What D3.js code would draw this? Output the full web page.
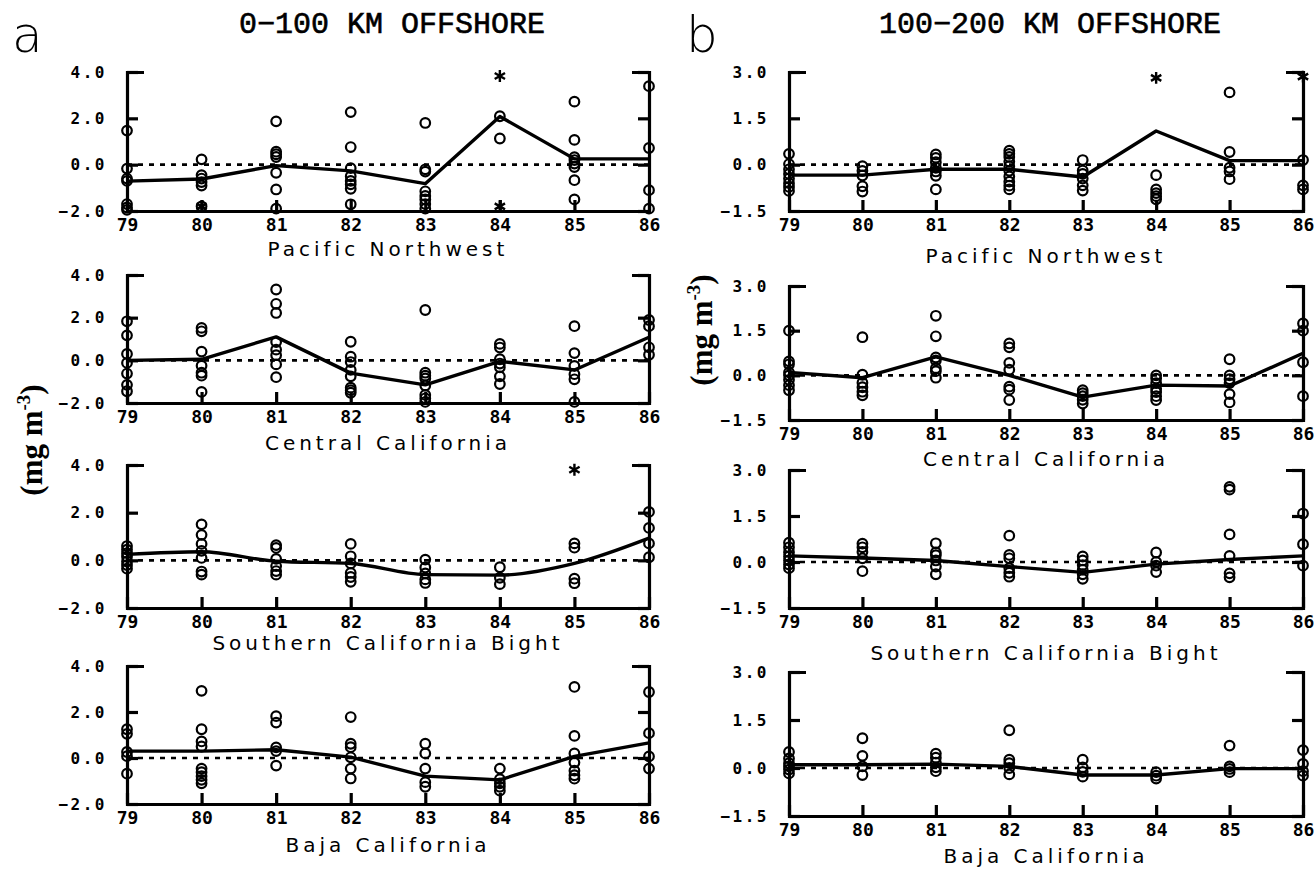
<!DOCTYPE html>
<meta charset="utf-8">
<script src="https://d3js.org/d3.v7.min.js"></script>
<style>
  body { margin: 0; background: #fff; }
  svg text { fill: #000; }
</style>
<div id="chart"></div>
<script>

// years on the x axis
var years = [79, 80, 81, 82, 83, 84, 85, 86];

// y tick labels
var nearTicks = [-2, 0, 2, 4];
var farTicks = [-1.5, 0, 1.5, 3];

// ---- 0-100 km offshore: station values per year, and the mean line ----
var nearPNW = [
  [1.47, -0.17, -0.6, -0.7, -1.7, -1.85, -1.95],
  [0.23, -0.45, -0.6, -0.75, -0.9, -1.8],
  [1.87, 0.56, 0.45, 0.33, -0.35, -1.07, -1.9],
  [2.27, 0.76, -0.15, -0.5, -0.7, -0.85, -1.04, -1.71],
  [1.8, -0.2, -0.3, -1.15, -1.35, -1.5, -1.7, -1.9],
  [2.09, 1.13],
  [2.72, 1.07, 0.32, 0.2, 0.05, -0.1, -0.67, -1.5],
  [3.39, 0.72, -1.1, -1.9]
];
var nearPNWMean = [-0.71, -0.62, -0.04, -0.27, -0.82, 2.08, 0.25, 0.25];
var nearPNWStars = [[84, 3.83], [84, -1.8], [80, -1.8]];

var nearCC = [
  [1.83, 1.17, 0.3, -0.12, -0.62, -1.15, -1.45],
  [1.52, 1.36, 0.41, -0.25, -0.58, -0.72, -1.48],
  [3.32, 2.65, 2.22, 0.86, 0.5, 0.24, -0.19, -0.79],
  [0.87, 0.17, -0.08, -0.45, -0.75, -1.28, -1.4, -1.52],
  [2.36, -0.58, -0.72, -0.85, -1.18, -1.62, -1.78, -1.95],
  [0.77, 0.6, 0.05, -0.15, -0.33, -0.75, -1.11],
  [1.6, 0.34, -0.26, -0.65, -0.89, -1.95],
  [1.89, 1.6, 0.61, 0.26]
];
var nearCCMean = [0.0, 0.05, 1.1, -0.6, -1.15, -0.05, -0.45, 1.08];
var nearCCStars = [];

var nearSCB = [
  [0.6, 0.45, 0.3, 0.15, -0.05, -0.2, -0.35],
  [1.51, 1.07, 0.69, 0.4, 0.1, -0.47, -0.6],
  [0.64, 0.52, 0.06, -0.24, -0.45, -0.6],
  [0.69, 0.17, -0.13, -0.53, -0.7, -0.9],
  [0.03, -0.3, -0.55, -0.8, -0.95],
  [-0.29, -0.73, -1.0],
  [0.71, 0.53, -0.77, -0.96],
  [2.03, 1.36, 0.71, 0.13]
];
var nearSCBMean = [0.25, 0.36, -0.04, -0.13, -0.6, -0.62, -0.13, 0.93];
var nearSCBStars = [[85, 3.8]];

var nearBaja = [
  [1.25, 1.05, 0.26, 0.08, -0.68],
  [2.92, 1.25, 0.72, 0.5, -0.46, -0.62, -0.79, -0.95, -1.1],
  [1.82, 1.54, 0.46, 0.3, -0.33],
  [1.78, 0.62, 0.47, 0.03, -0.46, -0.89],
  [0.62, 0.2, -0.46, -1.05, -1.25],
  [-0.46, -0.92, -1.1, -1.25, -1.42],
  [3.09, 0.96, 0.2, -0.2, -0.55, -0.75, -0.9],
  [2.87, 1.08, 0.07, -0.46]
];
var nearBajaMean = [0.3, 0.3, 0.36, 0.04, -0.79, -0.95, 0.07, 0.66];
var nearBajaStars = [];

// ---- 100-200 km offshore ----
var farPNW = [
  [0.35, 0.02, -0.15, -0.3, -0.45, -0.6, -0.72, -0.85],
  [-0.05, -0.2, -0.35, -0.7, -0.87],
  [0.33, 0.22, 0.08, -0.1, -0.22, -0.36, -0.8],
  [0.45, 0.35, 0.25, 0.1, -0.05, -0.2, -0.38, -0.55, -0.68, -0.8],
  [0.15, -0.19, -0.3, -0.45, -0.67, -0.84],
  [-0.34, -0.8, -0.92, -1.02, -1.12],
  [2.34, 0.41, -0.1, -0.22, -0.47],
  [0.15, -0.67, -0.8]
];
var farPNWMean = [-0.34, -0.34, -0.15, -0.15, -0.4, 1.09, 0.13, 0.13];
var farPNWStars = [[84, 2.81], [86, 2.85]];

var farCC = [
  [1.5, 0.47, 0.37, 0.1, 0.0, -0.15, -0.33, -0.5],
  [1.28, 0.02, -0.25, -0.4, -0.55, -0.67],
  [2.0, 1.31, 0.6, 0.5, 0.24, 0.14, -0.08],
  [1.07, 0.94, 0.42, 0.19, -0.38, -0.48, -0.83],
  [-0.5, -0.6, -0.7, -0.82, -0.95],
  [0.0, -0.11, -0.26, -0.45, -0.56, -0.7, -0.83],
  [0.54, 0.0, -0.13, -0.26, -0.63, -0.91],
  [1.74, 1.5, 0.44, -0.7]
];
var farCCMean = [0.1, -0.08, 0.62, 0.0, -0.73, -0.33, -0.36, 0.74];
var farCCStars = [];

var farSCB = [
  [0.63, 0.48, 0.32, 0.18, 0.05, -0.08, -0.2],
  [0.6, 0.48, 0.33, 0.12, -0.3],
  [0.61, 0.31, 0.22, 0.05, -0.15, -0.4],
  [0.86, 0.23, 0.12, -0.2, -0.35, -0.48],
  [0.18, 0.05, -0.1, -0.25, -0.4, -0.55],
  [0.31, 0.0, -0.12, -0.33],
  [2.45, 2.36, 0.9, 0.2, -0.37, -0.5],
  [1.58, 0.58, -0.12]
];
var farSCBMean = [0.2, 0.13, 0.05, -0.15, -0.34, -0.07, 0.08, 0.2];
var farSCBStars = [];

var farBaja = [
  [0.5, 0.3, 0.15, 0.05, -0.05, -0.17],
  [0.93, 0.38, 0.05, -0.22],
  [0.45, 0.32, 0.17, 0.02, -0.1],
  [1.18, 0.26, 0.15, 0.0, -0.2],
  [0.26, 0.02, -0.12, -0.27],
  [-0.13, -0.24, -0.33],
  [0.7, 0.05, -0.03, -0.13],
  [0.56, 0.13, -0.1, -0.24]
];
var farBajaMean = [0.1, 0.1, 0.12, 0.05, -0.22, -0.22, -0.02, -0.02];
var farBajaStars = [];

// ---------------------------------------------------------------
var W = 1315, H = 881;

var svg = d3.select("#chart")
  .append("svg")
    .attr("width", W)
    .attr("height", H);

// column layout
var cols = [
  {x0: 127, x1: 649, domain: [-2, 4], ticks: nearTicks},
  {x0: 789, x1: 1303, domain: [-1.5, 3], ticks: farTicks}
];

// title = baseline of the region name, relative to the panel bottom
var panels = [
  {col: 0, top: 72,  bottom: 211, title: 45, name: "Pacific Northwest",         vals: nearPNW,  mean: nearPNWMean,  stars: nearPNWStars},
  {col: 0, top: 275, bottom: 403, title: 47, name: "Central California",        vals: nearCC,   mean: nearCCMean,   stars: nearCCStars},
  {col: 0, top: 465, bottom: 608, title: 42, name: "Southern California Bight", vals: nearSCB,  mean: nearSCBMean,  stars: nearSCBStars, smooth: true},
  {col: 0, top: 666, bottom: 804, title: 48, name: "Baja California",           vals: nearBaja, mean: nearBajaMean, stars: nearBajaStars},
  {col: 1, top: 72,  bottom: 211, title: 52, name: "Pacific Northwest",         vals: farPNW,   mean: farPNWMean,   stars: farPNWStars},
  {col: 1, top: 286, bottom: 420, title: 46, name: "Central California",        vals: farCC,    mean: farCCMean,    stars: farCCStars},
  {col: 1, top: 470, bottom: 608, title: 52, name: "Southern California Bight", vals: farSCB,   mean: farSCBMean,   stars: farSCBStars},
  {col: 1, top: 672, bottom: 816, title: 47, name: "Baja California",           vals: farBaja,  mean: farBajaMean,  stars: farBajaStars}
];

panels.forEach(function(p) {
  var c = cols[p.col];
  var x = d3.scaleLinear().domain([79, 86]).range([c.x0, c.x1]);
  var y = d3.scaleLinear().domain(c.domain).range([p.bottom, p.top]);
  var g = svg.append("g");

  // dotted zero line
  g.append("line")
    .attr("x1", x(79)).attr("x2", x(86))
    .attr("y1", y(0)).attr("y2", y(0))
    .attr("stroke", "#000")
    .attr("stroke-width", 2.6)
    .attr("stroke-dasharray", "5,6");

  // mean line
  var line = d3.line()
    .x(function(d, i) { return x(years[i]); })
    .y(function(d) { return y(d); })
    .curve(p.smooth ? d3.curveMonotoneX : d3.curveLinear);
  g.append("path")
    .datum(p.mean)
    .attr("d", line)
    .attr("fill", "none")
    .attr("stroke", "#000")
    .attr("stroke-width", 3.4)
    .attr("stroke-linejoin", "round");

  // station points
  var pts = [];
  p.vals.forEach(function(arr, i) {
    arr.forEach(function(v) { pts.push({yr: years[i], v: v}); });
  });
  g.selectAll("circle")
    .data(pts)
    .enter()
    .append("circle")
      .attr("cx", function(d) { return x(d.yr); })
      .attr("cy", function(d) { return y(d.v); })
      .attr("r", 4.8)
      .attr("fill", "none")
      .attr("stroke", "#000")
      .attr("stroke-width", 2.2);

  // off-scale asterisks
  g.selectAll(".star")
    .data(p.stars)
    .enter()
    .append("path")
      .attr("class", "star")
      .attr("transform", function(d) { return "translate(" + x(d[0]) + "," + y(d[1]) + ")"; })
      .attr("d", d3.symbol(d3.symbolAsterisk, 100))
      .attr("fill", "none")
      .attr("stroke", "#000")
      .attr("stroke-width", 2.4);

  // left axis, ticks pointing in
  var yl = g.append("g")
    .attr("transform", "translate(" + c.x0 + ",0)")
    .call(d3.axisLeft(y).tickValues(c.ticks).tickFormat(d3.format(".1f"))
      .tickSizeInner(-11).tickSizeOuter(-17).tickPadding(20));
  // right axis
  var yr = g.append("g")
    .attr("transform", "translate(" + c.x1 + ",0)")
    .call(d3.axisRight(y).tickValues(c.ticks).tickFormat("")
      .tickSizeInner(-11).tickSizeOuter(-17));
  // bottom axis, ticks pointing up
  var xb = g.append("g")
    .attr("transform", "translate(0," + p.bottom + ")")
    .call(d3.axisBottom(x).tickValues(years).tickFormat(function(d) { return d; })
      .tickSizeInner(-11).tickSizeOuter(0).tickPadding(7));

  [yl, yr, xb].forEach(function(a) {
    a.selectAll("path, line").attr("stroke", "#000").attr("stroke-width", 3.2);
  });
  yl.selectAll("text")
    .style("font-family", "DejaVu Sans Mono")
    .style("font-weight", "bold")
    .style("font-size", "16px")
    .style("letter-spacing", "2.5px");
  xb.selectAll("text")
    .style("font-family", "DejaVu Sans Mono")
    .style("font-weight", "bold")
    .style("font-size", "18px");

  // region label
  g.append("text")
    .attr("x", (c.x0 + c.x1) / 2)
    .attr("y", p.bottom + p.title)
    .attr("text-anchor", "middle")
    .style("font-family", "DejaVu Sans")
    .style("font-size", "20px")
    .style("letter-spacing", "4px")
    .text(p.name);
});

// column headings
svg.append("text").attr("x", 392).attr("y", 33).attr("text-anchor", "middle")
  .style("font-family", "Liberation Mono").style("font-size", "30px")
  .attr("stroke", "#000").attr("stroke-width", 0.6)
  .text("0\u2212100 KM OFFSHORE");
svg.append("text").attr("x", 1050).attr("y", 33).attr("text-anchor", "middle")
  .style("font-family", "Liberation Mono").style("font-size", "30px")
  .attr("stroke", "#000").attr("stroke-width", 0.6)
  .text("100\u2212200 KM OFFSHORE");

// panel letters
svg.append("text").attr("x", 12).attr("y", 52)
  .style("font-family", "DejaVu Sans").style("font-weight", "200").style("font-size", "50px").text("a");
svg.append("text").attr("x", 686).attr("y", 52)
  .style("font-family", "DejaVu Sans").style("font-weight", "200").style("font-size", "50px").text("b");

// y axis unit labels
function unitLabel(cx, cy) {
  var t = svg.append("text")
    .attr("transform", "translate(" + cx + "," + cy + ") rotate(-90)")
    .attr("text-anchor", "middle")
    .style("font-family", "Liberation Serif")
    .style("font-weight", "bold")
    .style("font-size", "31px");
  t.append("tspan").text("(mg m");
  t.append("tspan").attr("dy", -12).style("font-size", "19px").text("-3");
  t.append("tspan").attr("dy", 12).text(")");
}
unitLabel(42, 440);
unitLabel(712, 330);

</script>
